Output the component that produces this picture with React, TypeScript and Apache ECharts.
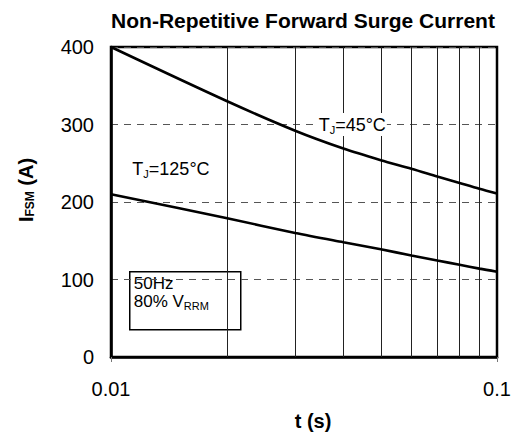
import React, { useEffect, useRef } from "react";
import * as echarts from "echarts";

const FONT = "'Liberation Sans', Arial, Helvetica, sans-serif";

const timeValues = [0.01, 0.02, 0.03, 0.04, 0.05, 0.06, 0.07, 0.08, 0.09, 0.1];
const currentTj45 = [400, 330, 292, 269, 254, 243, 233, 224.5, 217, 211];
const currentTj125 = [210, 179, 160, 148, 139, 131, 124.5, 119, 114, 110];
const gridTimes = [0.02, 0.03, 0.04, 0.05, 0.06, 0.07, 0.08, 0.09];
const yTicks = [0, 100, 200, 300, 400];

export default function App() {
  const ref = useRef<HTMLDivElement>(null);
  useEffect(() => {
    if (!ref.current) return;
    const chart = echarts.init(ref.current, undefined, { renderer: "svg" });
    const lineStyle = { color: "#000", width: 2.6 };
    chart.setOption({
      animation: false,
      backgroundColor: "#fff",
      title: {
        text: "Non-Repetitive Forward Surge Current",
        left: 298,
        top: 5,
        textAlign: "center",
        textStyle: { fontFamily: FONT, fontSize: 21, fontWeight: "bold", color: "#000" },
      },
      grid: {
        left: 111,
        right: 18,
        top: 47,
        bottom: 79,
        show: true,
        borderColor: "#000",
        borderWidth: 2.5,
        backgroundColor: "transparent",
      },
      xAxis: {
        type: "log",
        logBase: 10,
        min: 0.01,
        max: 0.1,
        name: "t (s)",
        nameLocation: "middle",
        nameGap: 54,
        nameTextStyle: { fontFamily: FONT, fontSize: 20, fontWeight: "bold", color: "#000", padding: [0, 0, 0, 18] },
        axisLine: { show: true, lineStyle: { color: "#000", width: 2.6 } },
        axisTick: { show: true, inside: false, length: 5, lineStyle: { color: "#777", width: 1 } },
        minorTick: { show: false },
        splitLine: { show: false },
        axisLabel: {
          fontFamily: FONT,
          fontSize: 20,
          color: "#000",
          margin: 22,
          formatter: (v: number) => String(parseFloat(v.toPrecision(3))),
        },
      },
      yAxis: {
        type: "value",
        min: 0,
        max: 400,
        interval: 100,
        name: "{b|I}{s|FSM}{b| (A)}",
        nameLocation: "middle",
        nameGap: 75,
        nameRotate: 90,
        nameTextStyle: {
          padding: [0, 0, 0, 24],
          rich: {
            b: { fontFamily: FONT, fontSize: 20, fontWeight: "bold", color: "#000" },
            s: { fontFamily: FONT, fontSize: 12, fontWeight: "bold", color: "#000", padding: [9, 0, 0, 0] },
          },
        },
        axisLine: { show: true, lineStyle: { color: "#000", width: 2.6 } },
        axisTick: { show: false },
        splitLine: { show: true, lineStyle: { color: "#555", width: 1, type: [7, 6] } },
        axisLabel: {
          fontFamily: FONT,
          fontSize: 20,
          color: "#000",
          margin: 17,
          customValues: yTicks,
        },
      },
      series: [
        {
          name: "TJ=45°C",
          type: "line",
          data: timeValues.map((t, i) => [t, currentTj45[i]]),
          showSymbol: false,
          smooth: 0.3,
          lineStyle,
          z: 5,
          markLine: {
            silent: true,
            symbol: ["none", "none"],
            label: { show: false },
            lineStyle: { color: "#222", width: 1, type: "solid" },
            data: gridTimes.map((t) => ({ xAxis: t })),
            z: 1,
          },
          markPoint: {
            silent: true,
            symbol: "rect",
            symbolSize: 0,
            data: [
              { coord: [0.04217, 300], value: 0 },
              { coord: [0.0143, 243], value: 1 },
            ],
            label: {
              show: true,
              position: "inside",
              backgroundColor: "#fff",
              padding: [2, 1, 1, 1],
              formatter: (p: any) =>
                p.value === 0 ? "{n|T}{s|J}{n|=45°C}" : "{n|T}{s|J}{n|=125°C}",
              rich: {
                n: { fontFamily: FONT, fontSize: 18, color: "#000" },
                s: { fontFamily: FONT, fontSize: 11, color: "#000", padding: [9, 0, 0, 0] },
              },
            },
          },
        },
        {
          name: "TJ=125°C",
          type: "line",
          data: timeValues.map((t, i) => [t, currentTj125[i]]),
          showSymbol: false,
          smooth: 0.3,
          lineStyle,
          z: 5,
        },
      ],
      graphic: [
        {
          type: "group",
          left: 129,
          top: 271,
          z: 10,
          children: [
            {
              type: "rect",
              shape: { x: 0, y: 0, width: 111, height: 58 },
              style: { fill: "#fff", stroke: "#000", lineWidth: 1.5 },
            },
            {
              type: "text",
              x: 4,
              y: 3,
              style: {
                text: "{n|50Hz}",
                rich: {
                  n: { fontFamily: FONT, fontSize: 17, color: "#000", lineHeight: 17 },
                },
              },
            },
            {
              type: "text",
              x: 4,
              y: 21,
              style: {
                text: "{n|80% V}{s|RRM}",
                rich: {
                  n: { fontFamily: FONT, fontSize: 17, color: "#000", lineHeight: 17 },
                  s: { fontFamily: FONT, fontSize: 11, color: "#000", padding: [10, 0, 0, 0], lineHeight: 17 },
                },
              },
            },
          ],
        },
      ],
    });
    return () => chart.dispose();
  }, []);
  return (
    <div
      ref={ref}
      style={{ position: "absolute", left: 0, top: 0, width: 515, height: 436 }}
    />
  );
}
